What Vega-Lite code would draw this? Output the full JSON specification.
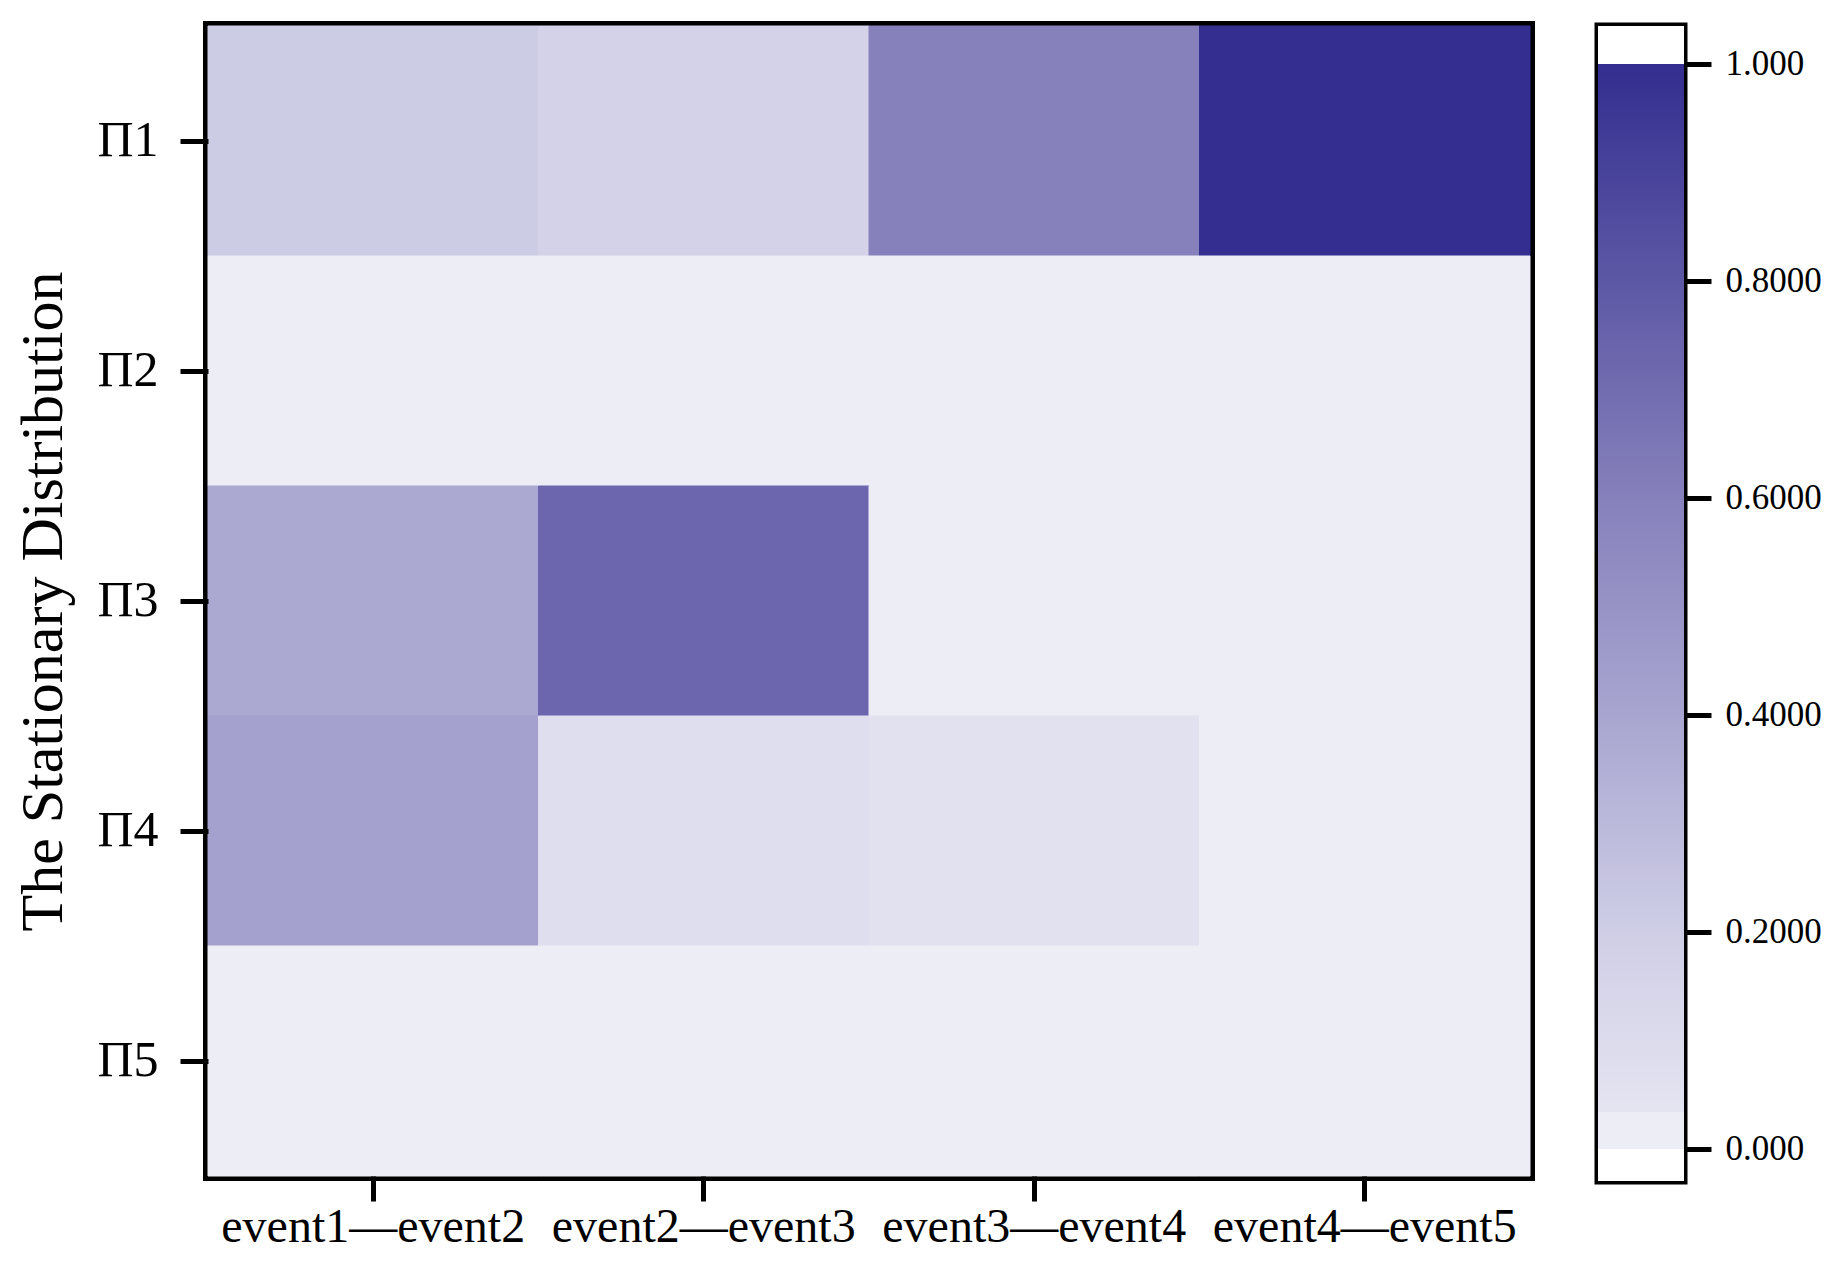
{
  "$schema": "https://vega.github.io/schema/vega-lite/v6.json",
  "padding": {"left": 8, "top": 20, "right": 5, "bottom": 5},
  "background": "white",
  "config": {
    "font": "Liberation Serif",
    "view": {"stroke": "black", "strokeWidth": 10},
    "axis": {"labelColor": "black", "titleColor": "black", "tickColor": "black", "domain": false, "grid": false, "labelFont": "Liberation Serif", "titleFont": "Liberation Serif", "titleFontWeight": "normal", "labelLimit": 0}
  },
  "spacing": 58,
  "hconcat": [
    {
      "width": 1322,
      "height": 1150,
      "data": {"values": [
        {"pair": "event1—event2", "pi": "Π1", "v": 0.21},
        {"pair": "event2—event3", "pi": "Π1", "v": 0.17},
        {"pair": "event3—event4", "pi": "Π1", "v": 0.6},
        {"pair": "event4—event5", "pi": "Π1", "v": 1.0},
        {"pair": "event1—event2", "pi": "Π2", "v": 0.0},
        {"pair": "event2—event3", "pi": "Π2", "v": 0.0},
        {"pair": "event3—event4", "pi": "Π2", "v": 0.0},
        {"pair": "event4—event5", "pi": "Π2", "v": 0.0},
        {"pair": "event1—event2", "pi": "Π3", "v": 0.385},
        {"pair": "event2—event3", "pi": "Π3", "v": 0.73},
        {"pair": "event3—event4", "pi": "Π3", "v": 0.0},
        {"pair": "event4—event5", "pi": "Π3", "v": 0.0},
        {"pair": "event1—event2", "pi": "Π4", "v": 0.42},
        {"pair": "event2—event3", "pi": "Π4", "v": 0.08},
        {"pair": "event3—event4", "pi": "Π4", "v": 0.055},
        {"pair": "event4—event5", "pi": "Π4", "v": 0.0},
        {"pair": "event1—event2", "pi": "Π5", "v": 0.0},
        {"pair": "event2—event3", "pi": "Π5", "v": 0.0},
        {"pair": "event3—event4", "pi": "Π5", "v": 0.0},
        {"pair": "event4—event5", "pi": "Π5", "v": 0.0}
      ]},
      "mark": {"type": "rect", "strokeWidth": 1},
      "encoding": {
        "x": {"field": "pair", "type": "nominal", "scale": {"paddingInner": 0, "paddingOuter": 0},
          "axis": {"title": null, "labelAngle": 0, "labelFontSize": 48, "tickSize": 25, "tickWidth": 5, "labelPadding": 2}},
        "y": {"field": "pi", "type": "nominal", "scale": {"paddingInner": 0, "paddingOuter": 0},
          "axis": {"title": "The Stationary Distribution", "titleFontSize": 60, "labelFontSize": 50, "tickSize": 28, "tickWidth": 5, "labelPadding": 22, "titlePadding": 22}},
        "color": {"field": "v", "type": "quantitative", "legend": null,
          "scale": {"domain": [0, 0.03, 0.2, 0.4, 0.6, 0.8, 1.0], "range": ["#ededf6", "#e5e4f1", "#cfcee6", "#a8a5d0", "#8681bb", "#5d58a5", "#332e8f"], "interpolate": "rgb"}},
        "stroke": {"field": "v", "type": "quantitative", "legend": null,
          "scale": {"domain": [0, 0.03, 0.2, 0.4, 0.6, 0.8, 1.0], "range": ["#ededf6", "#e5e4f1", "#cfcee6", "#a8a5d0", "#8681bb", "#5d58a5", "#332e8f"], "interpolate": "rgb"}}
      }
    },
    {
      "width": 86,
      "height": 1155,
      "view": {"stroke": "black", "strokeWidth": 7},
      "data": {"values": [{"lo": -0.0295, "hi": 1.035}]},
      "mark": {"type": "rect", "fill": {"gradient": "linear", "x1": 0, "y1": 1, "x2": 0, "y2": 0, "stops": [
        {"offset": 0, "color": "#ffffff"},
        {"offset": 0.0276, "color": "#ffffff"},
        {"offset": 0.0278, "color": "#ededf6"},
        {"offset": 0.0596, "color": "#ededf6"},
        {"offset": 0.0598, "color": "#e5e4f1"},
        {"offset": 0.2156, "color": "#cfcee6"},
        {"offset": 0.4035, "color": "#a8a5d0"},
        {"offset": 0.5914, "color": "#8681bb"},
        {"offset": 0.7792, "color": "#5d58a5"},
        {"offset": 0.9670, "color": "#332e8f"},
        {"offset": 0.9672, "color": "#ffffff"},
        {"offset": 1, "color": "#ffffff"}
      ]}},
      "encoding": {
        "y": {"field": "lo", "type": "quantitative", "scale": {"domain": [-0.0295, 1.035], "nice": false, "zero": false},
          "axis": {"orient": "right", "title": null, "values": [0, 0.2, 0.4, 0.6, 0.8, 1.0], "labelExpr": "datum.value == 0 ? '0.000' : datum.value == 1 ? '1.000' : format(datum.value, '.4f')", "labelFontSize": 35, "tickSize": 27, "tickWidth": 5, "labelPadding": 14}},
        "y2": {"field": "hi"}
      }
    }
  ]
}
